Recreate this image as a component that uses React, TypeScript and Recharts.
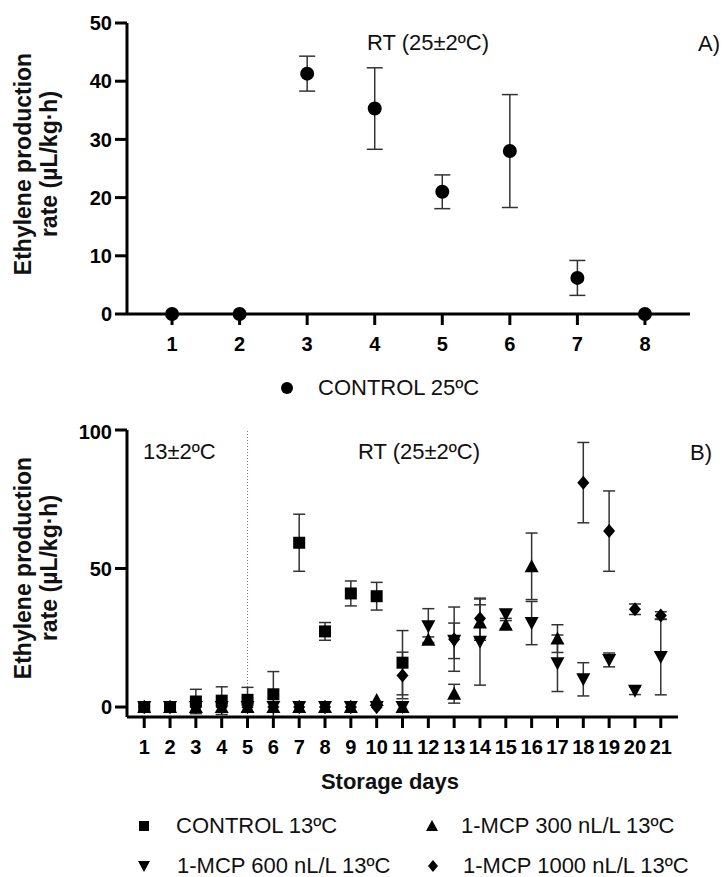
import React from "react";
import {
  ErrorBar,
  ReferenceLine,
  Scatter,
  ScatterChart,
  XAxis,
  YAxis,
} from "recharts";

// panel A: control at 25ºC
const daysA = [1, 2, 3, 4, 5, 6, 7, 8];
const control25 = [0, 0, 41.3, 35.3, 21.0, 28.0, 6.2, 0];
const control25Err = [0, 0, 3.0, 7.0, 2.9, 9.7, 3.0, 0];
const ticksYA = [0, 10, 20, 30, 40, 50];

// panel B: 13ºC storage then RT
const daysB = [1, 2, 3, 4, 5, 6, 7, 8, 9, 10, 11, 12, 13, 14, 15, 16, 17, 18, 19, 20, 21];
const control13 = [0, 0, 2.0, 2.3, 2.6, 4.6, 59.3, 27.3, 41.0, 40.0, 16.0, null, null, null, null, null, null, null, null, null, null];
const control13Err = [0, 0, 4.4, 5.0, 4.5, 8.2, 10.3, 3.2, 4.5, 5.0, 11.6, null, null, null, null, null, null, null, null, null, null];
const mcp300 = [0, 0, 0, 0, 0, 0, 0, 0, 0, 2.5, 0, 24.3, 4.8, 30.5, 29.7, 50.8, 24.7, null, null, null, null];
const mcp300Err = [0, 0, 0, 0, 0, 0, 0, 0, 0, 0, 0, 1.0, 3.4, 6.4, 1.5, 12.0, 5.0, null, null, null, null];
const mcp600 = [0, 0, 0, 0, 0, 0, 0, 0, 0, 0, 0, 29.2, 23.9, 23.6, 33.5, 30.3, 15.8, 10.0, 17.0, 5.9, 18.1];
const mcp600Err = [0, 0, 0, 0, 0, 0, 0, 0, 0, 0, 0, 6.3, 6.4, 15.7, 1.5, 7.8, 10.2, 6.0, 2.5, 1.4, 13.7];
const mcp1000 = [0, 0, 0, 0, 0, 0, 0, 0, 0, 0, 11.4, null, 24.5, 32.0, null, null, null, 81.0, 63.5, 35.3, 33.0];
const mcp1000Err = [0, 0, 0, 0, 0, 0, 0, 0, 0, 0, 8.4, null, 11.6, 7.0, null, null, null, 14.5, 14.5, 1.9, 1.4];
const ticksYB = [0, 50, 100];

const build = (days: number[], ys: (number | null)[], errs: (number | null)[]) =>
  days
    .map((d, i) => ({ x: d, y: ys[i], err: errs[i] ?? 0 }))
    .filter((p) => p.y != null);

const FONT = '"Liberation Sans", Arial, sans-serif';

const Dot = (p: any) => (p.cx == null ? null : <circle cx={p.cx} cy={p.cy} r={7} fill="#000" />);
const Sq = (p: any) =>
  p.cx == null ? null : <rect x={p.cx - 6} y={p.cy - 6} width={12} height={12} fill="#000" />;
const TriUp = (p: any) =>
  p.cx == null ? null : (
    <path d={`M${p.cx},${p.cy - 7}L${p.cx + 7},${p.cy + 6}L${p.cx - 7},${p.cy + 6}Z`} fill="#000" />
  );
const TriDown = (p: any) =>
  p.cx == null ? null : (
    <path d={`M${p.cx},${p.cy + 7}L${p.cx + 7},${p.cy - 6}L${p.cx - 7},${p.cy - 6}Z`} fill="#000" />
  );
const Diam = (p: any) =>
  p.cx == null ? null : (
    <path d={`M${p.cx},${p.cy - 7}L${p.cx + 6},${p.cy}L${p.cx},${p.cy + 7}L${p.cx - 6},${p.cy}Z`} fill="#000" />
  );

const tickStyle = { fontSize: 20, fontWeight: 700, fill: "#000" };
const axisLine = { stroke: "#000", strokeWidth: 3 };

function Txt({ x, y, children, size = 22, bold = false, center = false }: any) {
  return (
    <div
      style={{
        position: "absolute",
        left: x,
        top: y,
        transform: `translate(${center ? "-50%" : "0"}, -50%)`,
        fontSize: size,
        fontWeight: bold ? 700 : 400,
        whiteSpace: "nowrap",
        lineHeight: 1,
        color: "#111",
      }}
    >
      {children}
    </div>
  );
}

function YTitle({ cx, cy }: { cx: number; cy: number }) {
  return (
    <div
      style={{
        position: "absolute",
        left: cx - 150,
        top: cy - 26,
        width: 300,
        height: 52,
        transform: "rotate(-90deg)",
        textAlign: "center",
        fontSize: 23,
        fontWeight: 700,
        lineHeight: "26px",
        color: "#111",
      }}
    >
      Ethylene production
      <br />
      rate (µL/kg·h)
    </div>
  );
}

function Mark({ x, y, kind }: { x: number; y: number; kind: string }) {
  const s = 5;
  let el: React.ReactNode = null;
  if (kind === "circle") el = <circle cx={8} cy={8} r={6} fill="#000" />;
  if (kind === "square") el = <rect x={8 - s} y={8 - s} width={2 * s} height={2 * s} fill="#000" />;
  if (kind === "up") el = <path d="M8,2L14,13L2,13Z" fill="#000" />;
  if (kind === "down") el = <path d="M8,14L14,3L2,3Z" fill="#000" />;
  if (kind === "diamond") el = <path d="M8,2L13,8L8,14L3,8Z" fill="#000" />;
  return (
    <svg width={16} height={16} style={{ position: "absolute", left: x - 8, top: y - 8 }}>
      {el}
    </svg>
  );
}

// plain top + right axes that only close the box
function frameAxes(xDomain: number[], yDomain: number[]) {
  return [
    <XAxis
      key="fx"
      xAxisId="frame"
      orientation="top"
      type="number"
      domain={xDomain}
      height={0}
      tick={false}
      tickLine={false}
      axisLine={axisLine}
    />,
    <YAxis
      key="fy"
      yAxisId="frame"
      orientation="right"
      type="number"
      domain={yDomain}
      width={0}
      tick={false}
      tickLine={false}
      axisLine={axisLine}
    />,
  ];
}

export default function App() {
  const dataA = build(daysA, control25, control25Err);
  const sB = [
    { key: "c13", data: build(daysB, control13, control13Err), shape: Sq },
    { key: "m300", data: build(daysB, mcp300, mcp300Err), shape: TriUp },
    { key: "m600", data: build(daysB, mcp600, mcp600Err), shape: TriDown },
    { key: "m1000", data: build(daysB, mcp1000, mcp1000Err), shape: Diam },
  ];

  return (
    <div
      style={{
        position: "absolute",
        left: 0,
        top: 0,
        width: 723,
        height: 877,
        background: "#fff",
        fontFamily: FONT,
      }}
    >
      <div style={{ position: "absolute", left: 0, top: 0 }}>
        <ScatterChart width={723} height={420} margin={{ top: 23, right: 33, bottom: 0, left: 0 }}>
          <XAxis
            type="number"
            dataKey="x"
            domain={[1 / 3, 8 + 2 / 3]}
            ticks={daysA}
            interval={0}
            height={106}
            tickSize={11}
            tickMargin={12}
            tick={tickStyle}
            axisLine={axisLine}
            tickLine={axisLine}
            allowDataOverflow
          />
          <YAxis
            type="number"
            dataKey="y"
            domain={[0, 50]}
            ticks={ticksYA}
            width={127}
            tickSize={12}
            tickMargin={3}
            tick={tickStyle}
            axisLine={axisLine}
            tickLine={axisLine}
          />
          {frameAxes([0, 1], [0, 1])}
          <Scatter data={dataA} shape={Dot} isAnimationActive={false}>
            <ErrorBar dataKey="err" direction="y" width={8} stroke="#333" strokeWidth={1.5} />
          </Scatter>
        </ScatterChart>
      </div>

      <div style={{ position: "absolute", left: 0, top: 420 }}>
        <ScatterChart width={723} height={457} margin={{ top: 10, right: 45, bottom: 0, left: 0 }}>
          <XAxis
            type="number"
            dataKey="x"
            domain={[1 / 3, 21 + 2 / 3]}
            ticks={daysB}
            interval={0}
            height={160}
            tickSize={11}
            tickMargin={12}
            tick={tickStyle}
            axisLine={axisLine}
            tickLine={axisLine}
            allowDataOverflow
          />
          <YAxis
            type="number"
            dataKey="y"
            domain={[0, 100]}
            ticks={ticksYB}
            width={127}
            tickSize={12}
            tickMargin={3}
            tick={tickStyle}
            axisLine={axisLine}
            tickLine={axisLine}
          />
          {frameAxes([0, 1], [0, 1])}
          <ReferenceLine x={5} stroke="#777" strokeWidth={1} strokeDasharray="1 2" />
          {sB.map((s) => (
            <Scatter key={s.key} data={s.data} shape={s.shape} isAnimationActive={false}>
              <ErrorBar dataKey="err" direction="y" width={6} stroke="#333" strokeWidth={1.5} />
            </Scatter>
          ))}
        </ScatterChart>
      </div>

      <YTitle cx={36} cy={164} />
      <YTitle cx={36} cy={568} />

      <Txt x={428} y={43} center>RT (25±2ºC)</Txt>
      <Txt x={698} y={44}>A)</Txt>
      <Mark x={287} y={388} kind="circle" />
      <Txt x={318} y={388}>CONTROL 25ºC</Txt>

      <Txt x={143} y={452}>13±2ºC</Txt>
      <Txt x={358} y={452}>RT (25±2ºC)</Txt>
      <Txt x={690} y={453}>B)</Txt>
      <Txt x={390} y={782} bold center>Storage days</Txt>

      <Mark x={144} y={826} kind="square" />
      <Txt x={176} y={826}>CONTROL 13ºC</Txt>
      <Mark x={432} y={826} kind="up" />
      <Txt x={461} y={826}>1-MCP 300 nL/L 13ºC</Txt>
      <Mark x={144} y={866} kind="down" />
      <Txt x={177} y={866}>1-MCP 600 nL/L 13ºC</Txt>
      <Mark x={433} y={866} kind="diamond" />
      <Txt x={463} y={866}>1-MCP 1000 nL/L 13ºC</Txt>
    </div>
  );
}
